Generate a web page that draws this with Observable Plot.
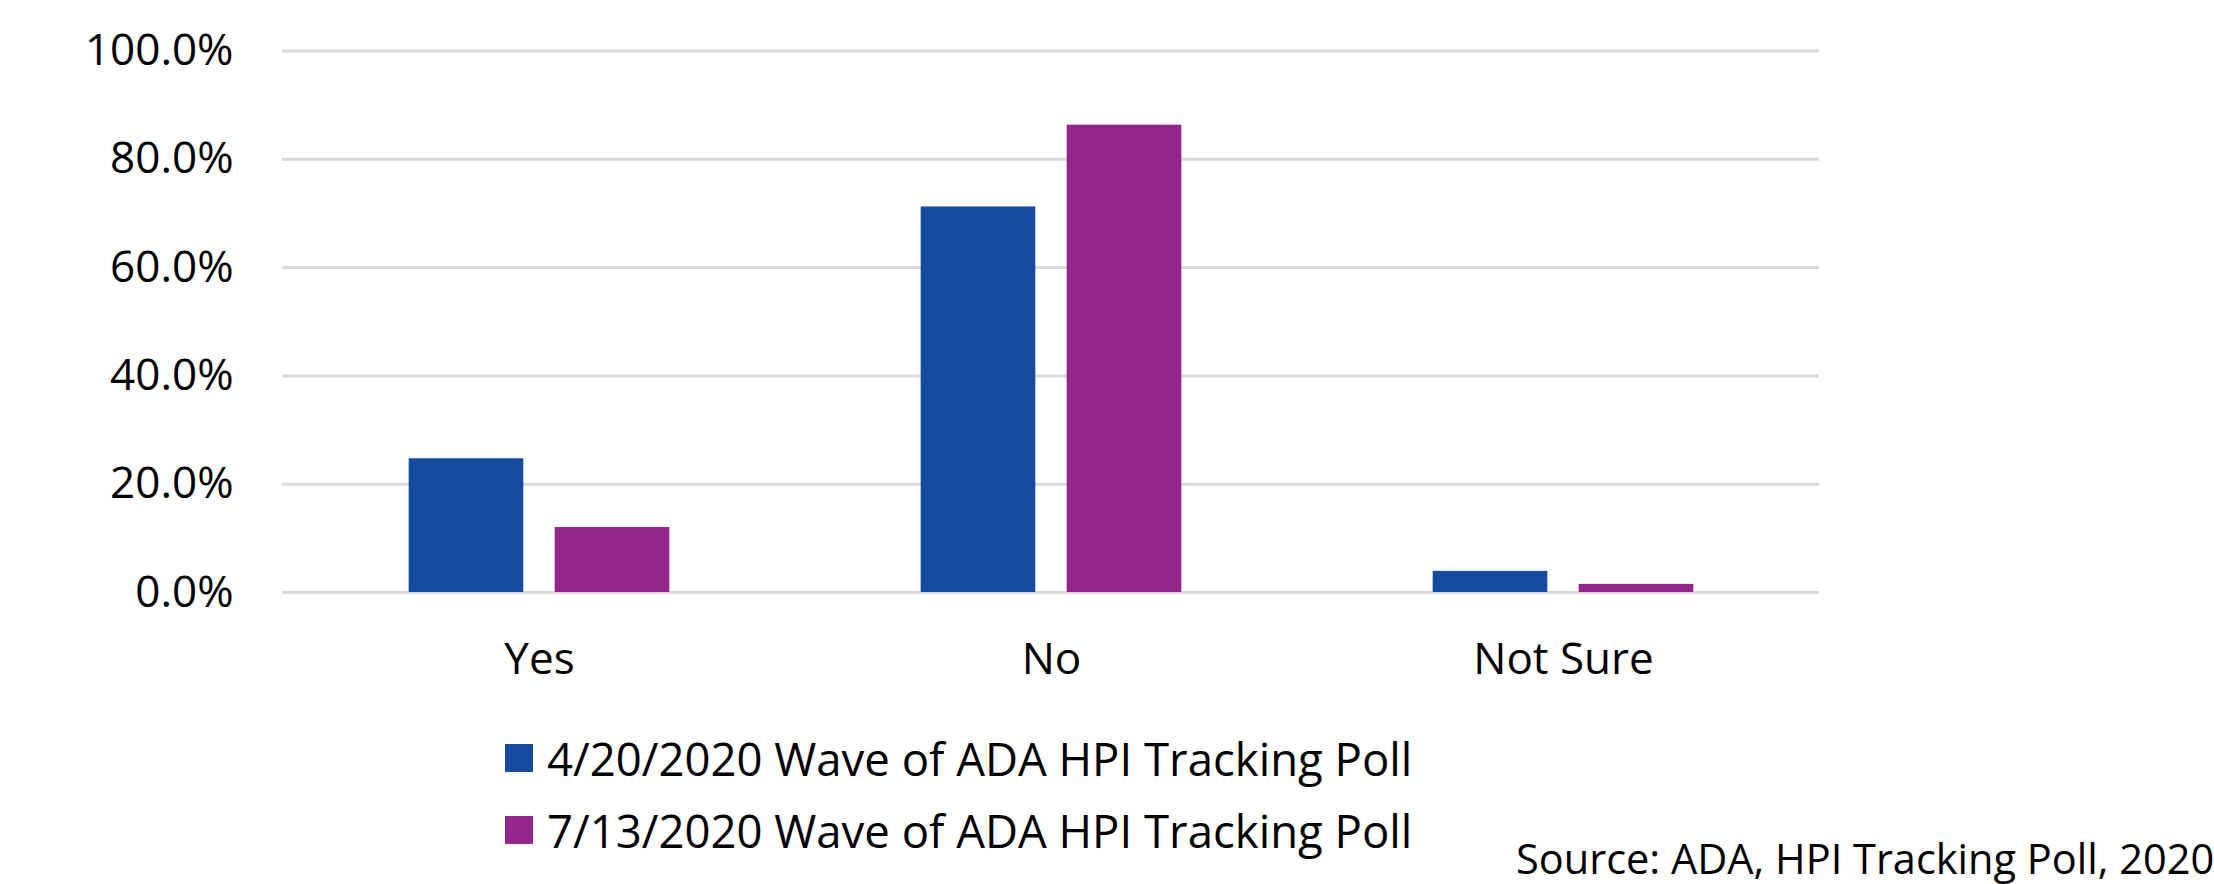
<!DOCTYPE html>
<html>
<head>
<meta charset="utf-8">
<script src="https://cdn.jsdelivr.net/npm/d3@7"></script>
<script src="https://cdn.jsdelivr.net/npm/@observablehq/plot@0.6"></script>
<style>
  html, body { margin: 0; padding: 0; background: #fff; }
  body { width: 2214px; height: 884px; position: relative; overflow: hidden; font-family: "Open Sans", sans-serif; }
  #chart { position: absolute; left: 0; top: 0; }
  #legend { position: absolute; left: 505px; top: 722px; }
  .row { display: flex; align-items: center; height: 72px; }
  .swatch { width: 28px; height: 28px; margin-right: 14px; }
  .label { font-size: 45.5px; line-height: 72px; color: #000; white-space: nowrap; }
  #source { position: absolute; left: 1516px; top: 837px; font-size: 41.5px; line-height: 43px; color: #000; white-space: nowrap; }
</style>
</head>
<body>
<div id="chart"></div>
<div id="legend"></div>
<div id="source">Source: ADA, HPI Tracking Poll, 2020</div>
<script>
const categories = ["Yes", "No", "Not Sure"];
const seriesNames = ["4/20/2020 Wave of ADA HPI Tracking Poll", "7/13/2020 Wave of ADA HPI Tracking Poll"];
const wave1 = [24.7, 71.2, 3.9];
const wave2 = [12.0, 86.3, 1.5];
const seriesColors = ["#164A9E", "#93268A"];
const yTicks = [0, 20, 40, 60, 80, 100];

const rows1 = categories.map((c, i) => ({category: c, series: seriesNames[0], value: wave1[i]}));
const rows2 = categories.map((c, i) => ({category: c, series: seriesNames[1], value: wave2[i]}));

const plot = Plot.plot({
  width: 2214,
  height: 700,
  marginLeft: 282,
  marginRight: 395,
  marginTop: 50.5,
  marginBottom: 108,
  style: {fontFamily: "'Open Sans', sans-serif", fontSize: "44px", color: "#000", background: "transparent"},
  x: {domain: categories, padding: 0, label: null, tickSize: 0, tickPadding: 50},
  y: {domain: [0, 100], ticks: yTicks, tickFormat: d => d.toFixed(1) + "%", tickSize: 0, tickPadding: 49, label: null},
  color: {domain: seriesNames, range: seriesColors},
  marks: [
    Plot.ruleY(yTicks, {stroke: "#D9D9D9", strokeWidth: 3}),
    Plot.barY(rows1, {x: "category", y: "value", fill: "series", insetLeft: 125.67, insetRight: 271.67}),
    Plot.barY(rows2, {x: "category", y: "value", fill: "series", insetLeft: 271.67, insetRight: 125.67})
  ]
});
document.getElementById("chart").appendChild(plot);

const legend = document.getElementById("legend");
seriesNames.forEach((name, i) => {
  const row = document.createElement("div");
  row.className = "row";
  const sw = document.createElement("div");
  sw.className = "swatch";
  sw.style.background = seriesColors[i];
  const lb = document.createElement("div");
  lb.className = "label";
  lb.textContent = name;
  row.appendChild(sw);
  row.appendChild(lb);
  legend.appendChild(row);
});
</script>
</body>
</html>
